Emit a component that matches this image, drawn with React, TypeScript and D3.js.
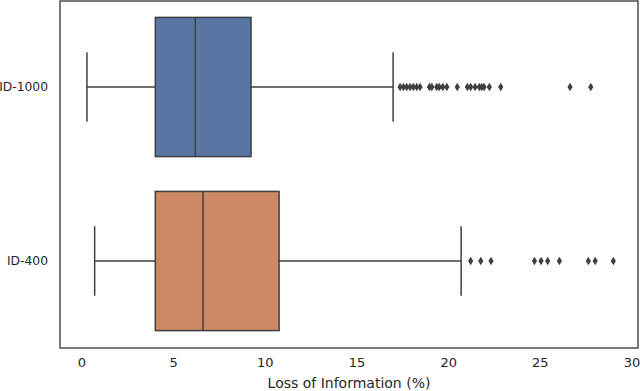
import React from 'react';
import * as d3 from 'd3';

// per-group stats (Loss of Information, %)
const groups = ['ID-1000', 'ID-400'];
const whiskerLow = [0.27, 0.69];
const q1 = [4.0, 4.0];
const median = [6.18, 6.6];
const q3 = [9.22, 10.75];
const whiskerHigh = [16.97, 20.68];
const outliers1000 = [
  17.35, 17.53, 17.71, 17.89, 18.07, 18.26, 18.44, 18.95, 19.08, 19.35,
  19.49, 19.68, 19.9, 20.47, 21.02, 21.2, 21.44, 21.67, 21.8, 21.93,
  22.22, 22.84, 26.62, 27.75,
];
const outliers400 = [21.2, 21.75, 22.31, 24.68, 25.04, 25.4, 26.04, 27.62, 27.99, 28.98];
const outliers = [outliers1000, outliers400];
const fills = ['#5975a4', '#cc8963'];
const xTicks = [0, 5, 10, 15, 20, 25, 30];

const W = 640;
const H = 391;
const frame = { left: 60, right: 638, top: 1, bottom: 348 };
const grey = '#3f3f3f';
const font = 'DejaVu Sans, sans-serif';

export default function App() {
  const x = d3.scaleLinear().domain([0, 30]).range([82, 632]);
  const y = d3.scaleBand().domain(groups).range([0, 348]).paddingInner(0).paddingOuter(0);
  const boxH = y.bandwidth() * 0.8;
  const diamond = 'M0,-4.2L2.6,0L0,4.2L-2.6,0Z';

  return (
    <svg width={W} height={H} style={{ position: 'absolute', left: 0, top: 0, background: '#fff' }}>
      {groups.map((g, i) => {
        const cy = y(g)! + y.bandwidth() / 2;
        const top = cy - boxH / 2;
        const capH = boxH / 2;
        return (
          <g key={g}>
            <line x1={x(whiskerLow[i])} x2={x(q1[i])} y1={cy} y2={cy} stroke={grey} strokeWidth={1.5} />
            <line x1={x(q3[i])} x2={x(whiskerHigh[i])} y1={cy} y2={cy} stroke={grey} strokeWidth={1.5} />
            <line x1={x(whiskerLow[i])} x2={x(whiskerLow[i])} y1={cy - capH / 2} y2={cy + capH / 2} stroke={grey} strokeWidth={1.5} />
            <line x1={x(whiskerHigh[i])} x2={x(whiskerHigh[i])} y1={cy - capH / 2} y2={cy + capH / 2} stroke={grey} strokeWidth={1.5} />
            <rect x={x(q1[i])} y={top} width={x(q3[i]) - x(q1[i])} height={boxH} fill={fills[i]} stroke={grey} strokeWidth={1.5} />
            <line x1={x(median[i])} x2={x(median[i])} y1={top} y2={top + boxH} stroke={grey} strokeWidth={1.5} />
            {outliers[i].map((v, j) => (
              <path key={j} d={diamond} transform={`translate(${x(v)},${cy})`} fill={grey} />
            ))}
            <text x={48} y={cy} textAnchor="end" dominantBaseline="central" fontFamily={font} fontSize={12.3} fill="#262626">
              {g}
            </text>
          </g>
        );
      })}
      <rect
        x={frame.left}
        y={frame.top}
        width={frame.right - frame.left}
        height={frame.bottom - frame.top}
        fill="none"
        stroke="#333"
        strokeWidth={1.3}
      />
      {xTicks.map((t) => (
        <text key={t} x={x(t)} y={362} textAnchor="middle" dominantBaseline="central" fontFamily={font} fontSize={13} fill="#262626">
          {t}
        </text>
      ))}
      <text x={349} y={383} textAnchor="middle" dominantBaseline="central" fontFamily={font} fontSize={14} fill="#262626">
        Loss of Information (%)
      </text>
    </svg>
  );
}
